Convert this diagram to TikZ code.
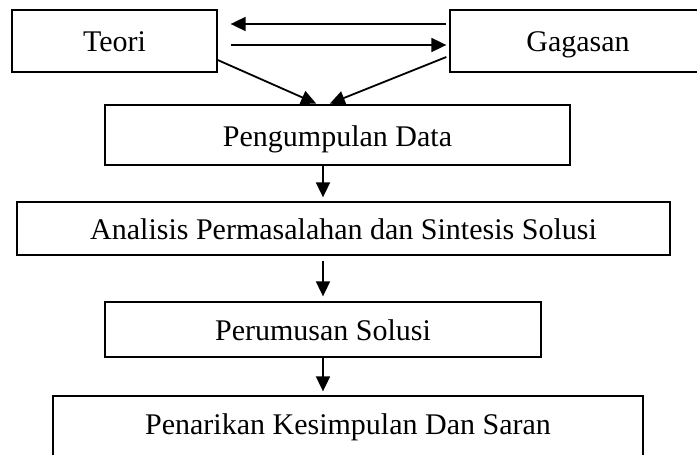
\documentclass[tikz,border=0pt]{standalone}
\usepackage{fontspec}
\setmainfont{Liberation Serif}
\usetikzlibrary{arrows.meta}

\tikzset{
  kotak/.style={draw, line width=1.3pt, inner sep=0pt, text height=25pt, text depth=3pt,
    font=\fontsize{30}{36}\selectfont},
  panah/.style={line width=1.8pt, -{Triangle[length=15pt,width=14pt]}}
}

\begin{document}
\begin{tikzpicture}[x=1pt, y=-1pt]
      \useasboundingbox (0,0) rectangle (697,455);

      % Kotak atas
      \node[kotak, minimum width=205pt, minimum height=62pt] (teori) at (114.5,41) {Teori};
      \node[kotak, minimum width=256pt, minimum height=62pt] (gagasan) at (578,41) {Gagasan};

      % Kotak alur
      \node[kotak, minimum width=465pt, minimum height=60pt] (data) at (337.5,135) {Pengumpulan Data};
      \node[kotak, minimum width=653pt, minimum height=53pt] (analisis) at (343.5,228.5) {Analisis Permasalahan dan Sintesis Solusi};
      \node[kotak, minimum width=436pt, minimum height=55pt] (solusi) at (323,329.5) {Perumusan Solusi};
      \node[kotak, minimum width=590pt, minimum height=66pt, text height=23pt, text depth=13pt] (saran) at (348,429) {Penarikan Kesimpulan Dan Saran};

      % Panah antara teori dan gagasan
      \draw[panah, shorten <=3pt, shorten >=13pt] ([yshift=17pt]gagasan.west) -- ([yshift=17pt]teori.east);
      \draw[panah, shorten <=13pt, shorten >=3pt] ([yshift=-4pt]teori.east) -- ([yshift=-4pt]gagasan.west);

      % Panah ke pengumpulan data
      \draw[panah, shorten >=2pt] ([yshift=-19pt]teori.east) -- ([xshift=-19.5pt]data.north);
      \draw[panah, shorten >=2pt] ([xshift=-3pt,yshift=-16pt]gagasan.west) -- ([xshift=-9.5pt]data.north);

      % Panah ke bawah
      \draw[panah, shorten >=4pt] (data.south -| solusi) -- (analisis.north -| solusi);
      \draw[panah, shorten <=5pt, shorten >=5pt] (analisis.south -| solusi) -- (solusi.north);
      \draw[panah, shorten >=4pt] (solusi.south) -- (saran.north -| solusi);
\end{tikzpicture}
\end{document}
